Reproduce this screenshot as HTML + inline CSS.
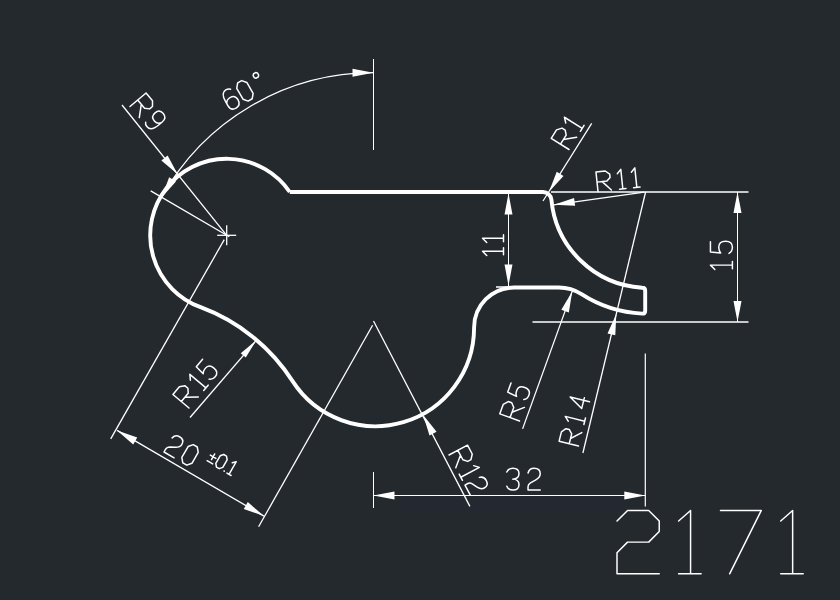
<!DOCTYPE html>
<html><head><meta charset="utf-8"><style>
html,body{margin:0;padding:0;background:#24292d;width:840px;height:600px;overflow:hidden}
svg{display:block}
</style></head><body>
<svg width="840" height="600" viewBox="0 0 840 600">
<rect width="840" height="600" fill="#24292d"/>
<rect x="400" y="497" width="224" height="15" fill="#242830"/>
<path d="M289.77,192 L542.96,192 A8.5,8.5 0 0 1 551.42,199.71 A97.2,97.2 0 0 0 642.2,287.71 Q645.2,287.71 645.2,290.71 L645.2,310.65 Q645.2,313.65 642.2,313.65 A123.1,123.1 0 0 1 581.54,294.19 A42,42 0 0 0 558.8,287.5 L514.1,287.5 A40,40 0 0 0 474.1,327.5 A98.7,98.7 0 0 1 292.57,381.18 A186.5,186.5 0 0 0 200.56,307.2 A76.5,76.5 0 1 1 289.77,192" fill="none" stroke="#ffffff" stroke-width="3.9" stroke-linejoin="round"/>
<line x1="373.5" y1="59" x2="373.5" y2="150" stroke="#ffffff" stroke-width="1.0"/>
<path d="M161.64,197.38 A242,242 0 0 1 373.3,72.7" fill="none" stroke="#ffffff" stroke-width="1.3"/>
<polygon points="373.5,72.7 352.5,76.7 352.5,68.7" fill="#ffffff"/>
<polygon points="161.64,197.38 169.13,177.35 175.97,181.51" fill="#ffffff"/>
<line x1="229.29" y1="236.81" x2="150.7" y2="190.93" stroke="#ffffff" stroke-width="1.3"/>
<line x1="217.2" y1="235.3" x2="236.2" y2="235.3" stroke="#ffffff" stroke-width="1.3"/>
<line x1="226.7" y1="225.3" x2="226.7" y2="245.3" stroke="#ffffff" stroke-width="1.3"/>
<line x1="122" y1="105" x2="226.7" y2="235.3" stroke="#ffffff" stroke-width="1.3"/>
<polygon points="177.66,174.26 161.38,160.4 167.62,155.39" fill="#ffffff"/>
<line x1="224.25" y1="239.66" x2="110.7" y2="438.9" stroke="#ffffff" stroke-width="1.3"/>
<line x1="372.6" y1="325.3" x2="258.6" y2="526.8" stroke="#ffffff" stroke-width="1.3"/>
<line x1="117.1" y1="430.4" x2="263.9" y2="516.1" stroke="#ffffff" stroke-width="1.3"/>
<polygon points="117.1,430.4 137.25,437.53 133.22,444.44" fill="#ffffff"/>
<polygon points="263.9,516.1 243.75,508.97 247.78,502.06" fill="#ffffff"/>
<line x1="190" y1="417.5" x2="256.3" y2="340.3" stroke="#ffffff" stroke-width="1.3"/>
<polygon points="256.3,340.3 245.77,357.62 240.77,353.32" fill="#ffffff"/>
<line x1="373.5" y1="321" x2="469.9" y2="506.4" stroke="#ffffff" stroke-width="1.3"/>
<polygon points="423.2,414.96 436.56,431.66 429.49,435.4" fill="#ffffff"/>
<line x1="373.5" y1="472" x2="373.5" y2="508" stroke="#ffffff" stroke-width="1.0"/>
<line x1="645.3" y1="353.5" x2="645.3" y2="506.6" stroke="#ffffff" stroke-width="1.2"/>
<line x1="373.5" y1="495.5" x2="645.3" y2="495.5" stroke="#ffffff" stroke-width="1.0"/>
<polygon points="373.5,495.5 394.5,491.5 394.5,499.5" fill="#ffffff"/>
<polygon points="645.3,495.5 624.3,499.5 624.3,491.5" fill="#ffffff"/>
<line x1="522.6" y1="428.9" x2="572.2" y2="291.4" stroke="#ffffff" stroke-width="1.3"/>
<polygon points="572.2,291.4 568.84,312.51 561.31,309.8" fill="#ffffff"/>
<line x1="582.9" y1="453" x2="645.6" y2="192" stroke="#ffffff" stroke-width="1.3"/>
<polygon points="616.3,314 615.28,335.35 607.5,333.48" fill="#ffffff"/>
<line x1="551" y1="192" x2="748.5" y2="192" stroke="#ffffff" stroke-width="1.3"/>
<line x1="532.5" y1="322" x2="748.5" y2="322" stroke="#ffffff" stroke-width="1.3"/>
<line x1="737.5" y1="192" x2="737.5" y2="322" stroke="#ffffff" stroke-width="1.0"/>
<polygon points="737.5,192 741.5,213 733.5,213" fill="#ffffff"/>
<polygon points="737.5,322 733.5,301 741.5,301" fill="#ffffff"/>
<line x1="496" y1="287" x2="530" y2="287" stroke="#ffffff" stroke-width="1.3"/>
<line x1="508.5" y1="193" x2="508.5" y2="286" stroke="#ffffff" stroke-width="1.0"/>
<polygon points="508.5,193.5 512.5,214.5 504.5,214.5" fill="#ffffff"/>
<polygon points="508.5,285.5 504.5,264.5 512.5,264.5" fill="#ffffff"/>
<line x1="591.7" y1="123.3" x2="543" y2="201" stroke="#ffffff" stroke-width="1.3"/>
<polygon points="549,191.7 556.73,171.77 563.51,176" fill="#ffffff"/>
<line x1="644.3" y1="192.2" x2="553.8" y2="204.8" stroke="#ffffff" stroke-width="1.3"/>
<polygon points="553.8,204.8 574.05,197.94 575.15,205.87" fill="#ffffff"/>
<g transform="translate(130,106.5) rotate(50) scale(2.33)" fill="none" stroke="#ffffff" stroke-width="0.64" stroke-linejoin="round" stroke-linecap="round"><path transform="translate(0,-9)" d="M0,9 V0 H4.3 L6.2,1.6 V3.2 L4.6,4.7 H0 M2.4,4.7 L6.2,9"/><path transform="translate(9,-9)" d="M5,3.2 Q4.4,5 2.5,5 Q0,5 0,2.5 Q0,0 2.5,0 Q5,0 5,2.7 V4.5 Q5,9 2.4,9 Q1,9 0.5,8.2"/></g>
<g transform="translate(231,111) rotate(-30) scale(2.33)" fill="none" stroke="#ffffff" stroke-width="0.64" stroke-linejoin="round" stroke-linecap="round"><path transform="translate(0,-9)" d="M4.5,0.8 Q3.8,0 2.6,0 Q0,0 0,4.5 V6.3 Q0,9 2.5,9 Q5,9 5,6.3 Q5,3.8 2.5,3.8 Q0.6,3.8 0,5.5"/><path transform="translate(7,-9)" d="M1.5,0 H3.5 L5,1.8 V7.2 L3.5,9 H1.5 L0,7.2 V1.8 Z"/><path transform="translate(15.8,-9)" d="M0.6,0 H1.6 L2.2,0.6 V1.6 L1.6,2.2 H0.6 L0,1.6 V0.6 Z"/></g>
<g transform="translate(189,408) rotate(-50) scale(2.33)" fill="none" stroke="#ffffff" stroke-width="0.64" stroke-linejoin="round" stroke-linecap="round"><path transform="translate(0,-9)" d="M0,9 V0 H4.3 L6.2,1.6 V3.2 L4.6,4.7 H0 M2.4,4.7 L6.2,9"/><path transform="translate(9.3,-9)" d="M0.2,1.8 L2,0 V9 M0.5,9 H3.5"/><path transform="translate(15,-9)" d="M4.8,0 H0.6 L0.2,4.2 Q1,3.4 2.5,3.4 Q5,3.4 5,6.2 Q5,9 2.5,9 Q0.8,9 0,7.6"/></g>
<g transform="translate(164,452) rotate(30) scale(2.33)" fill="none" stroke="#ffffff" stroke-width="0.64" stroke-linejoin="round" stroke-linecap="round"><path transform="translate(0,-9)" d="M0,2 Q0.5,0 2.5,0 Q5,0 5,2.3 Q5,3.8 3.2,4.8 L1,6 Q0,6.6 0,7.6 V9 H5"/><path transform="translate(7.8,-9)" d="M1.5,0 H3.5 L5,1.8 V7.2 L3.5,9 H1.5 L0,7.2 V1.8 Z"/></g>
<g transform="translate(206,461) rotate(30) scale(1.61)" fill="none" stroke="#ffffff" stroke-width="0.93" stroke-linejoin="round" stroke-linecap="round"><path transform="translate(0,-9)" d="M2.5,2.5 V6.5 M0.5,4.5 H4.5 M0.5,8.5 H4.5"/><path transform="translate(6,-9)" d="M1.5,0 H3.5 L5,1.8 V7.2 L3.5,9 H1.5 L0,7.2 V1.8 Z"/><path transform="translate(12.5,-9)" d="M0.3,8.7 L0.5,8.9"/><path transform="translate(14.5,-9)" d="M0.2,1.8 L2,0 V9 M0.5,9 H3.5"/></g>
<g transform="translate(449,455) rotate(62) scale(2.33)" fill="none" stroke="#ffffff" stroke-width="0.64" stroke-linejoin="round" stroke-linecap="round"><path transform="translate(0,-9)" d="M0,9 V0 H4.3 L6.2,1.6 V3.2 L4.6,4.7 H0 M2.4,4.7 L6.2,9"/><path transform="translate(8.8,-9)" d="M0.2,1.8 L2,0 V9 M0.5,9 H3.5"/><path transform="translate(14.6,-9)" d="M0,2 Q0.5,0 2.5,0 Q5,0 5,2.3 Q5,3.8 3.2,4.8 L1,6 Q0,6.6 0,7.6 V9 H5"/></g>
<g transform="translate(506.8,490.1) rotate(0) scale(2.44)" fill="none" stroke="#ffffff" stroke-width="0.61" stroke-linejoin="round" stroke-linecap="round"><path transform="translate(0,-9)" d="M0,1.6 Q0.7,0 2.5,0 Q5,0 5,2.2 Q5,4.4 2.4,4.5 Q5,4.6 5,6.7 Q5,9 2.5,9 Q0.6,9 0,7.4"/><path transform="translate(8.7,-9)" d="M0,2 Q0.5,0 2.5,0 Q5,0 5,2.3 Q5,3.8 3.2,4.8 L1,6 Q0,6.6 0,7.6 V9 H5"/></g>
<g transform="translate(519.5,421) rotate(-70) scale(2.33)" fill="none" stroke="#ffffff" stroke-width="0.64" stroke-linejoin="round" stroke-linecap="round"><path transform="translate(0,-9)" d="M0,9 V0 H4.3 L6.2,1.6 V3.2 L4.6,4.7 H0 M2.4,4.7 L6.2,9"/><path transform="translate(9.3,-9)" d="M4.8,0 H0.6 L0.2,4.2 Q1,3.4 2.5,3.4 Q5,3.4 5,6.2 Q5,9 2.5,9 Q0.8,9 0,7.6"/></g>
<g transform="translate(578.5,446) rotate(-76) scale(2.22)" fill="none" stroke="#ffffff" stroke-width="0.67" stroke-linejoin="round" stroke-linecap="round"><path transform="translate(0,-9)" d="M0,9 V0 H4.3 L6.2,1.6 V3.2 L4.6,4.7 H0 M2.4,4.7 L6.2,9"/><path transform="translate(9.5,-9)" d="M0.2,1.8 L2,0 V9 M0.5,9 H3.5"/><path transform="translate(16.7,-9)" d="M3.8,9 V0 L0,6.3 H5"/></g>
<g transform="translate(732.4,270) rotate(-90) scale(2.44)" fill="none" stroke="#ffffff" stroke-width="0.61" stroke-linejoin="round" stroke-linecap="round"><path transform="translate(0,-9)" d="M0.2,1.8 L2,0 V9 M0.5,9 H3.5"/><path transform="translate(6.8,-9)" d="M4.8,0 H0.6 L0.2,4.2 Q1,3.4 2.5,3.4 Q5,3.4 5,6.2 Q5,9 2.5,9 Q0.8,9 0,7.6"/></g>
<g transform="translate(503.5,256) rotate(-90) scale(2.33)" fill="none" stroke="#ffffff" stroke-width="0.64" stroke-linejoin="round" stroke-linecap="round"><path transform="translate(0,-9)" d="M0.2,1.8 L2,0 V9 M0.5,9 H3.5"/><path transform="translate(5.6,-9)" d="M0.2,1.8 L2,0 V9 M0.5,9 H3.5"/></g>
<g transform="translate(569,149.5) rotate(-58) scale(2.33)" fill="none" stroke="#ffffff" stroke-width="0.64" stroke-linejoin="round" stroke-linecap="round"><path transform="translate(0,-9)" d="M0,9 V0 H4.3 L6.2,1.6 V3.2 L4.6,4.7 H0 M2.4,4.7 L6.2,9"/><path transform="translate(8.7,-9)" d="M0.2,1.8 L2,0 V9 M0.5,9 H3.5"/></g>
<g transform="translate(598,191.4) rotate(-6) scale(2.17)" fill="none" stroke="#ffffff" stroke-width="0.69" stroke-linejoin="round" stroke-linecap="round"><path transform="translate(0,-9)" d="M0,9 V0 H4.3 L6.2,1.6 V3.2 L4.6,4.7 H0 M2.4,4.7 L6.2,9"/><path transform="translate(9.5,-9)" d="M0.2,1.8 L2,0 V9 M0.5,9 H3.5"/><path transform="translate(16,-9)" d="M0.2,1.8 L2,0 V9 M0.5,9 H3.5"/></g>
<g transform="translate(617,573.8) rotate(0) scale(7.04)" fill="none" stroke="#ffffff" stroke-width="0.21" stroke-linejoin="round" stroke-linecap="round"><path transform="translate(0,-9)" d="M0,1.5 L1.5,0 H4.5 L6,1.5 V3 L4.5,4.5 H1.5 L0,6 V9 H6"/><path transform="translate(8.75,-9)" d="M0,1.5 L1.7,0 V9 M0,9 H3.2"/><path transform="translate(14.7,-9)" d="M0,0 H5.8 L1.3,9"/><path transform="translate(23.25,-9)" d="M0,1.5 L1.7,0 V9 M0,9 H3.2"/></g>
</svg>
</body></html>
